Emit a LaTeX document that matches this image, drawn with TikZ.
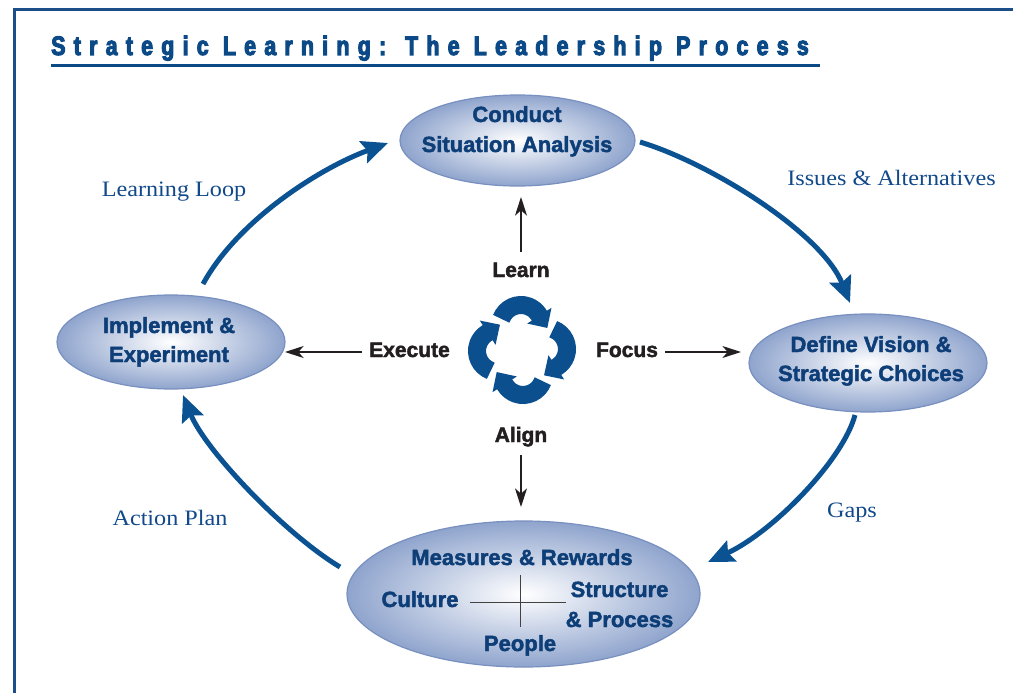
\documentclass[tikz,border=0pt]{standalone}
\usepackage{fontspec}
\setmainfont{Liberation Sans}
\newfontfamily\titlefont{Liberation Sans Bold}[FakeStretch=0.8,LetterSpace=31,FakeBold=4]
\newfontfamily\heavyfont{Liberation Sans Bold}[FakeBold=2]
\newfontfamily\seriffont{Liberation Serif}[FakeStretch=1.1]
\usetikzlibrary{shapes.geometric,arrows.meta}
\definecolor{titleBlue}{HTML}{0B4A87}
\definecolor{frameBlue}{HTML}{1C4F8A}
\definecolor{ellText}{HTML}{0D3E77}
\definecolor{arrowBlue}{HTML}{0A5291}
\definecolor{iconBlue}{HTML}{0B4F8E}
\definecolor{ellOuter}{HTML}{8FA4CD}
\definecolor{ellBorder}{HTML}{7890C0}
\definecolor{labBlue}{HTML}{12498A}
\definecolor{ink}{HTML}{231F20}
\begin{document}
\begin{tikzpicture}[x=0.75pt,y=-0.75pt,
  ell/.style={ellipse, draw=ellBorder, line width=0.9pt, inner color=white, outer color=ellOuter, inner sep=0pt},
  elltext/.style={font=\heavyfont\fontsize{16.5pt}{19pt}\selectfont, text=ellText, anchor=base, inner sep=0pt},
  act/.style={font=\heavyfont\fontsize{15.75pt}{18pt}\selectfont, text=ink, anchor=base, inner sep=0pt},
  seriflab/.style={font=\seriffont\fontsize{16.5pt}{19pt}\selectfont, text=labBlue, anchor=base, inner sep=0pt},
  loop/.style={draw=arrowBlue, line width=3.75pt, -{Stealth[length=19.5pt,width=17pt,inset=3pt]}},
  thinarrow/.style={draw=ink, line width=0.9pt, -{Stealth[length=14pt,width=9pt,inset=4pt]}},
  cyc/.style={draw=iconBlue, line width=13.5pt, -{Triangle[length=11pt,width=21pt]}},
  framestyle/.style={draw=frameBlue, line width=2.25pt},
]
\useasboundingbox (0,0) rectangle (1013,692);
\clip (0,0) rectangle (1013,692);
\fill[white] (0,0) rectangle (1013,692);

% frame and title
\draw[framestyle] (14,710) -- (14,10) -- (1030,10);
\node[anchor=base west, inner sep=0pt, text=titleBlue, font=\titlefont\fontsize{20pt}{22pt}\selectfont] (title) at (51,55) {Strategic Learning: The Leadership Process};
\coordinate (ulA) at (51,66);
\coordinate (ulB) at (820,66);
\draw[draw=titleBlue, line width=2.25pt] (ulA) -- (ulB);

% ellipses
\node[ell, minimum width=176.25pt, minimum height=68.25pt] (conduct) at (517.5,140.5) {};
\node[ell, minimum width=171pt, minimum height=70.5pt] (impl) at (171,342) {};
\node[ell, minimum width=178.5pt, minimum height=73.5pt] (define) at (868,363) {};
\node[ell, minimum width=264.75pt, minimum height=109.5pt] (measures) at (523.5,594) {};

\node[elltext] (ct1) at (517,122) {Conduct};
\node[elltext] (ct2) at (517,152) {Situation Analysis};
\node[elltext] (im1) at (169,333) {Implement \&};
\node[elltext] (im2) at (169,362) {Experiment};
\node[elltext] (df1) at (871,352) {Define Vision \&};
\node[elltext] (df2) at (871,381) {Strategic Choices};
\node[elltext] (mr) at (522,565) {Measures \& Rewards};
\node[elltext] (cu) at (420,607) {Culture};
\node[elltext] (st1) at (619.5,597) {Structure};
\node[elltext] (st2) at (619.5,627) {\& Process};
\node[elltext] (pe) at (520,651) {People};

% cross
\coordinate (crL) at (470,602);
\coordinate (crR) at (566,602);
\coordinate (crT) at (520,575);
\coordinate (crB) at (520,627);
\draw[draw=ink!85, line width=0.75pt] (crL) -- (crR);
\draw[draw=ink!85, line width=0.75pt] (crT) -- (crB);

% loop labels
\node[seriflab] (lloop) at (174,196) {Learning Loop};
\node[seriflab] (issues) at (891.5,185) {Issues \& Alternatives};
\node[seriflab] (gaps) at (852,517) {Gaps};
\node[seriflab] (aplan) at (170,525) {Action Plan};

% big loop arrows
\coordinate (a1s) at (203,284);
\coordinate (a1e) at (388,143);
\coordinate (a2s) at (640,142);
\coordinate (a2e) at (850,303);
\coordinate (a3s) at (855,415);
\coordinate (a3e) at (708,562);
\coordinate (a4s) at (340,567);
\coordinate (a4e) at (183,395);
\draw[loop] (a1s) .. controls (238,220) and (320,168) .. (a1e);
\draw[loop] (a2s) .. controls (710,163) and (822,233) .. (a2e);
\draw[loop] (a3s) .. controls (843,460) and (773,532) .. (a3e);
\draw[loop] (a4s) .. controls (285,534) and (205,450) .. (a4e);

% centre labels and arrows
\node[act] (learn) at (521,277) {Learn};
\node[act] (execute) at (409.5,357) {Execute};
\node[act] (focus) at (627,357) {Focus};
\node[act] (align) at (521,442) {Align};
\coordinate (lnA) at (521,252);
\coordinate (lnB) at (521,197);
\coordinate (exA) at (362,352);
\coordinate (exB) at (285,352);
\coordinate (foA) at (665,352);
\coordinate (foB) at (741,352);
\coordinate (alA) at (521,455);
\coordinate (alB) at (521,507);
\draw[thinarrow] (lnA) -- (lnB);
\draw[thinarrow] (exA) -- (exB);
\draw[thinarrow] (foA) -- (foB);
\draw[thinarrow] (alA) -- (alB);

% cycle icon
\draw[cyc] ([shift={(200:21)}]521,326) arc[start angle=200, end angle=327, radius=21] -- ++(57:16);
\draw[cyc] ([shift={(290:21)}]546,349) arc[start angle=290, end angle=417, radius=21] -- ++(147:16);
\draw[cyc] ([shift={(20:21)}]523,374) arc[start angle=20, end angle=147, radius=21] -- ++(237:16);
\draw[cyc] ([shift={(110:21)}]498,351) arc[start angle=110, end angle=237, radius=21] -- ++(327:16);
\end{tikzpicture}
\end{document}
